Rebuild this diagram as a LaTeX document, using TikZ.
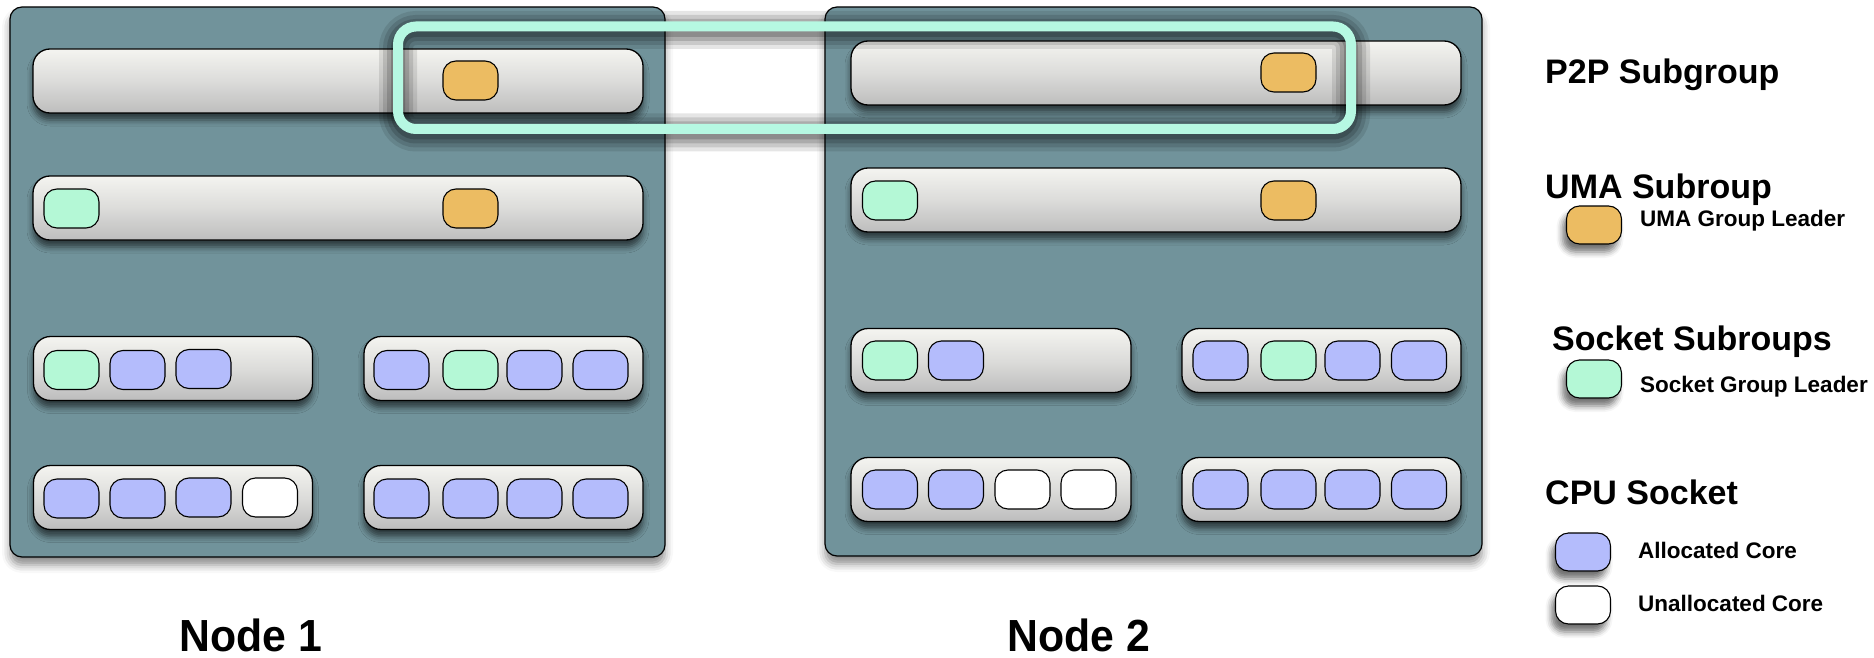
\documentclass[tikz,border=0pt]{standalone}
\usepackage{fontspec}
\setmainfont{Liberation Sans}
\newfontfamily\condfont[FakeStretch=0.95]{Liberation Sans}
\usetikzlibrary{shadows.blur}
\definecolor{panelc}{HTML}{71939B}
\definecolor{bart}{HTML}{F4F4F0}
\definecolor{barm}{HTML}{DCDCDA}
\definecolor{barb}{HTML}{BDBDBD}
\definecolor{orangec}{HTML}{ECBC62}
\definecolor{greenc}{HTML}{B4F8D6}
\definecolor{bluec}{HTML}{B4BCFC}
\definecolor{p2pc}{HTML}{B6F8E2}
\begin{document}
\begin{tikzpicture}[x=1pt,y=-1pt,
  panel/.style={draw=black, line width=1.2pt, rounded corners=12pt, fill=panelc, inner sep=0pt,
     blur shadow={shadow xshift=0pt, shadow yshift=-8pt, shadow blur radius=8pt, shadow opacity=45}},
  bar/.style={draw=black, line width=1.3pt, rounded corners=17pt, top color=bart, bottom color=barb, middle color=barm,
     minimum height=64pt, inner sep=0pt,
     blur shadow={shadow xshift=0pt, shadow yshift=-7pt, shadow blur radius=6pt, shadow opacity=60}},
  core/.style={draw=black, line width=1.1pt, rounded corners=13pt, minimum width=55pt, minimum height=39pt, inner sep=0pt},
  lcore/.style={core, minimum height=38pt,
     blur shadow={shadow xshift=-4pt, shadow yshift=-8pt, shadow blur radius=6pt, shadow opacity=55}},
  oc/.style={core, fill=orangec},
  gc/.style={core, fill=greenc},
  bc/.style={core, fill=bluec},
  wc/.style={core, fill=white},
  legbig/.style={anchor=base west, inner sep=0pt, font=\bfseries\fontsize{34}{34}\selectfont},
  legsmall/.style={anchor=base west, inner sep=0pt, font=\bfseries\fontsize{22.5}{22.5}\selectfont},
  nodelabel/.style={anchor=base, inner sep=0pt, font=\condfont\bfseries\fontsize{45}{45}\selectfont}
]
\path[use as bounding box] (0,0) rectangle (1874,658);

% panels
\node[panel, minimum width=655pt, minimum height=550pt] (panel1) at (337.5,282) {};
\node[panel, minimum width=657pt, minimum height=549pt] (panel2) at (1153.5,281.5) {};

% Node 1 bars and sockets
\node[bar, minimum width=610pt] (n1bar1) at (338,81) {};
\node[bar, minimum width=610pt] (n1bar2) at (338,208) {};
\node[bar, minimum width=279pt] (n1s1) at (173,368.5) {};
\node[bar, minimum width=279pt] (n1s2) at (503.5,368.5) {};
\node[bar, minimum width=279pt] (n1s3) at (173,497.5) {};
\node[bar, minimum width=279pt] (n1s4) at (503.5,497.5) {};

% Node 2 bars and sockets
\node[bar, minimum width=610pt] (n2bar1) at (1156,73) {};
\node[bar, minimum width=610pt] (n2bar2) at (1156,200) {};
\node[bar, minimum width=280pt] (n2s1) at (991,360.5) {};
\node[bar, minimum width=279pt] (n2s2) at (1321.5,360.5) {};
\node[bar, minimum width=280pt] (n2s3) at (991,489.5) {};
\node[bar, minimum width=279pt] (n2s4) at (1321.5,489.5) {};

% Node 1 cores
\node[oc] (n1u1) at (470.5,80.5) {};
\node[gc] (n1g0) at (71.5,208.5) {};
\node[oc] (n1u2) at (470.5,208.5) {};
\node[gc] (n1a1) at (71.5,370) {};
\node[bc] (n1a2) at (137.5,370) {};
\node[bc] (n1a3) at (203.5,369) {};
\node[bc] (n1b1) at (401.5,370) {};
\node[gc] (n1b2) at (470.5,370) {};
\node[bc] (n1b3) at (534.5,370) {};
\node[bc] (n1b4) at (600.5,370) {};
\node[bc] (n1c1) at (71.5,498.5) {};
\node[bc] (n1c2) at (137.5,498.5) {};
\node[bc] (n1c3) at (203.5,497.5) {};
\node[wc] (n1c4) at (270,497.5) {};
\node[bc] (n1d1) at (401.5,498.5) {};
\node[bc] (n1d2) at (470.5,498.5) {};
\node[bc] (n1d3) at (534.5,498.5) {};
\node[bc] (n1d4) at (600.5,498.5) {};

% Node 2 cores
\node[oc] (n2u1) at (1288.5,72.5) {};
\node[gc] (n2g0) at (890,200.5) {};
\node[oc] (n2u2) at (1288.5,200.5) {};
\node[gc] (n2a1) at (890,360.5) {};
\node[bc] (n2a2) at (956,360.5) {};
\node[bc] (n2b1) at (1220.5,360.5) {};
\node[gc] (n2b2) at (1288.5,360.5) {};
\node[bc] (n2b3) at (1352.5,360.5) {};
\node[bc] (n2b4) at (1419,360.5) {};
\node[bc] (n2c1) at (890,489.5) {};
\node[bc] (n2c2) at (956,489.5) {};
\node[wc] (n2c3) at (1022.5,489.5) {};
\node[wc] (n2c4) at (1088.5,489.5) {};
\node[bc] (n2d1) at (1220.5,489.5) {};
\node[bc] (n2d2) at (1288.5,489.5) {};
\node[bc] (n2d3) at (1352.5,489.5) {};
\node[bc] (n2d4) at (1419,489.5) {};

% P2P subgroup outline with soft shadow
\coordinate (p2pNW) at (398,26.5);
\coordinate (p2pSE) at (1351,129);
\coordinate (p2pNWs) at (398,30);
\coordinate (p2pSEs) at (1351,132.5);
\foreach \w/\o in {38/0.10, 30/0.12, 22/0.15, 14/0.18}
  \draw[black, opacity=\o, line width=\w pt, rounded corners=18pt] (p2pNWs) rectangle (p2pSEs);
\draw[p2pc, line width=10pt, rounded corners=18pt] (p2pNW) rectangle (p2pSE);

% Node labels
\node[nodelabel] (lab1) at (251,651) {Node 1};
\node[nodelabel] (lab2) at (1079,651) {Node 2};

% Legend
\node[legbig] (lp2p) at (1545,84) {P2P Subgroup};
\node[legbig] (luma) at (1545,198) {UMA Subroup};
\node[lcore, fill=orangec] (lumac) at (1594,225) {};
\node[legsmall] (lumat) at (1640,226) {UMA Group Leader};
\node[legbig] (lsock) at (1552,350) {Socket Subroups};
\node[lcore, fill=greenc] (lsockc) at (1594,379) {};
\node[legsmall] (lsockt) at (1640,392) {Socket Group Leader};
\node[legbig] (lcpu) at (1545,504) {CPU Socket};
\node[lcore, fill=bluec] (lalloc) at (1583,552) {};
\node[legsmall] (lalloct) at (1638,558) {Allocated Core};
\node[lcore, fill=white] (lun) at (1583,605) {};
\node[legsmall] (lunt) at (1638,611) {Unallocated Core};
\end{tikzpicture}
\end{document}
